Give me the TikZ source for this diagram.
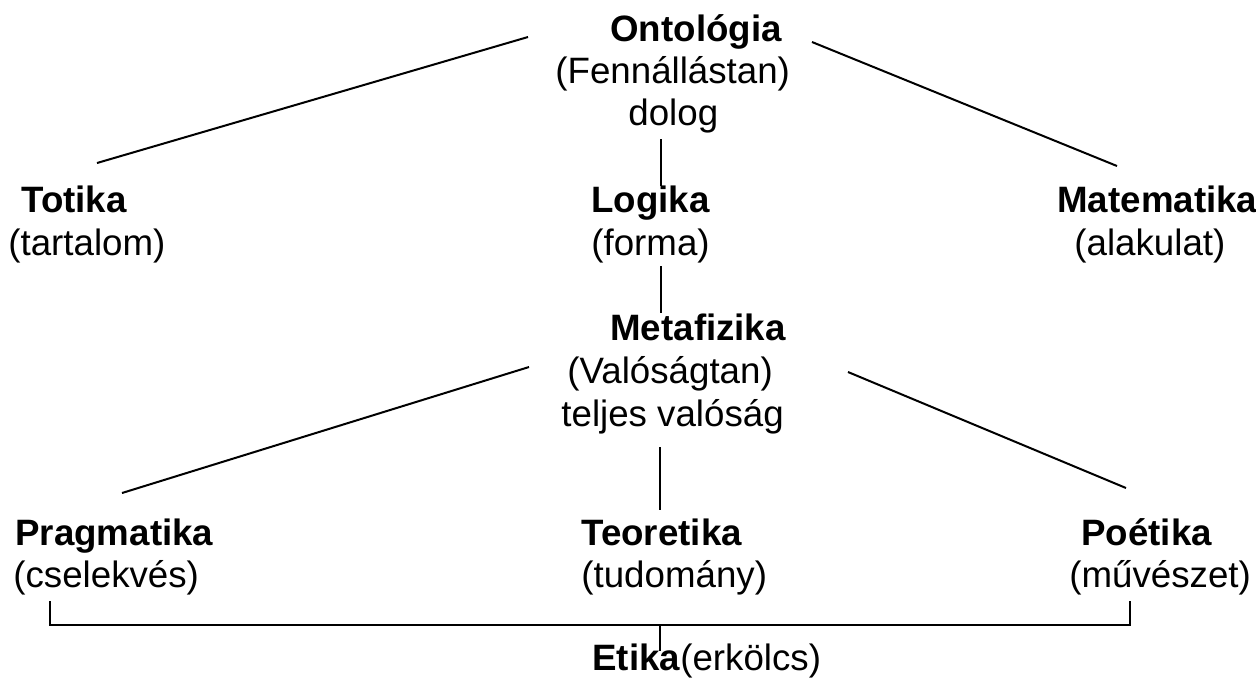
\documentclass[tikz,border=0pt]{standalone}
\usepackage{fontspec}
\setmainfont{Liberation Sans}
\begin{document}
\begin{tikzpicture}[x=0.5pt,y=-0.5pt,
  lbl/.style={anchor=base west, inner sep=0pt, font=\fontsize{18.35pt}{22pt}\selectfont},
  ttl/.style={lbl, font=\fontsize{18.35pt}{22pt}\selectfont\bfseries},
  ln/.style={line width=1pt, line cap=butt}]
\useasboundingbox (0,0) rectangle (1256,677);
% top group
\node[ttl] (onto) at (610,41.7) {Ontológia};
\node[lbl] (fenn) at (555,83) {(Fennállástan)};
\node[lbl] (dolog) at (628,125) {dolog};
% row 1
\node[ttl] (totika) at (21,212) {Totika};
\node[lbl] (tartalom) at (8,255) {(tartalom)};
\node[ttl] (logika) at (591,212) {Logika};
\node[lbl] (forma) at (591,255) {(forma)};
\node[ttl] (matek) at (1057,212) {Matematika};
\node[lbl] (alak) at (1074,255) {(alakulat)};
% middle group
\node[ttl] (meta) at (610,340) {Metafizika};
\node[lbl] (valo) at (567,383) {(Valóságtan)};
\node[lbl] (teljes) at (561,426) {teljes valóság};
% row 2
\node[ttl] (prag) at (15,545) {Pragmatika};
\node[lbl] (csel) at (13,587) {(cselekvés)};
\node[ttl] (teor) at (581,545) {Teoretika};
\node[lbl] (tud) at (581,587) {(tudomány)};
\node[ttl] (poet) at (1081,545) {Poétika};
\node[lbl] (muv) at (1069,587) {(művészet)};
% bottom
\node[lbl] (etika) at (592,670) {\textbf{Etika}(erkölcs)};
% connector end points
\coordinate (oL) at (528,37);
\coordinate (tT) at (97,163);
\coordinate (oR) at (812,42);
\coordinate (mT) at (1117,166);
\coordinate (dB) at (661,139);
\coordinate (lT) at (661,186);
\coordinate (fB) at (661,266);
\coordinate (meT) at (661,313);
\coordinate (vL) at (529,367);
\coordinate (pT) at (122,493);
\coordinate (vR) at (848,372);
\coordinate (poT) at (1126,488);
\coordinate (tjB) at (660,447);
\coordinate (teT) at (660,510);
\coordinate (cB) at (50,601);
\coordinate (mB) at (1130,601);
\coordinate (brL) at (50,625);
\coordinate (brR) at (1130,625);
\coordinate (brM) at (660,625);
\coordinate (eT) at (660,651);
% connectors
\draw[ln] (oL) -- (tT);
\draw[ln] (oR) -- (mT);
\draw[ln] (dB) -- (lT);
\draw[ln] (fB) -- (meT);
\draw[ln] (vL) -- (pT);
\draw[ln] (vR) -- (poT);
\draw[ln] (tjB) -- (teT);
\draw[ln] (cB) -- (brL) -- (brR) -- (mB);
\draw[ln] (brM) -- (eT);
\end{tikzpicture}
\end{document}
